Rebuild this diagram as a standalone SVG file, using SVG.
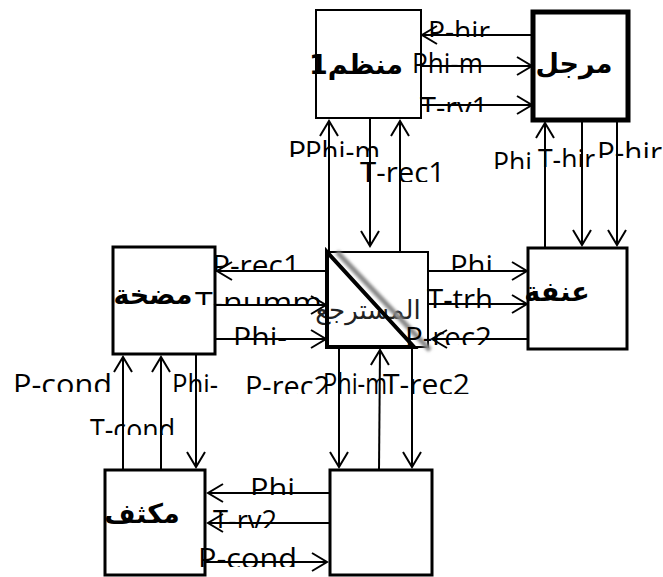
<svg xmlns="http://www.w3.org/2000/svg" width="663" height="577" viewBox="0 0 663 577">
<defs>
<marker id="ah" markerUnits="userSpaceOnUse" markerWidth="20" markerHeight="22" refX="16" refY="10" orient="auto" overflow="visible">
<path d="M1,1 L16,10 L1,19" fill="none" stroke="#000" stroke-width="2"/>
</marker>
<filter id="blur" x="-20%" y="-20%" width="140%" height="140%"><feGaussianBlur stdDeviation="1.6"/></filter>
<clipPath id="k1" clipPathUnits="userSpaceOnUse"><rect x="400" y="0" width="120" height="37"/></clipPath>
<clipPath id="k2" clipPathUnits="userSpaceOnUse"><rect x="400" y="40" width="120" height="33"/></clipPath>
<clipPath id="k3" clipPathUnits="userSpaceOnUse"><rect x="400" y="85" width="120" height="27"/></clipPath>
<clipPath id="k4" clipPathUnits="userSpaceOnUse"><rect x="270" y="125" width="130" height="32"/></clipPath>
<clipPath id="k6" clipPathUnits="userSpaceOnUse"><rect x="340" y="150" width="120" height="32"/></clipPath>
<clipPath id="k7" clipPathUnits="userSpaceOnUse"><rect x="480" y="135" width="60" height="34"/></clipPath>
<clipPath id="k8" clipPathUnits="userSpaceOnUse"><rect x="530" y="135" width="70" height="32"/></clipPath>
<clipPath id="k9" clipPathUnits="userSpaceOnUse"><rect x="590" y="130" width="80" height="28"/></clipPath>
<clipPath id="k10" clipPathUnits="userSpaceOnUse"><rect x="200" y="240" width="120" height="32"/></clipPath>
<clipPath id="k11" clipPathUnits="userSpaceOnUse"><rect x="190" y="280" width="140" height="25"/></clipPath>
<clipPath id="k12" clipPathUnits="userSpaceOnUse"><rect x="220" y="315" width="90" height="30"/></clipPath>
<clipPath id="k13" clipPathUnits="userSpaceOnUse"><rect x="440" y="240" width="70" height="32"/></clipPath>
<clipPath id="k14" clipPathUnits="userSpaceOnUse"><rect x="420" y="278" width="90" height="30"/></clipPath>
<clipPath id="k15" clipPathUnits="userSpaceOnUse"><rect x="400" y="315" width="110" height="30"/></clipPath>
<clipPath id="k16" clipPathUnits="userSpaceOnUse"><rect x="0" y="360" width="240" height="32"/></clipPath>
<clipPath id="k18" clipPathUnits="userSpaceOnUse"><rect x="235" y="360" width="250" height="34"/></clipPath>
<clipPath id="k21" clipPathUnits="userSpaceOnUse"><rect x="80" y="405" width="110" height="30"/></clipPath>
<clipPath id="k22" clipPathUnits="userSpaceOnUse"><rect x="240" y="465" width="70" height="30"/></clipPath>
<clipPath id="k23" clipPathUnits="userSpaceOnUse"><rect x="205" y="500" width="90" height="28"/></clipPath>
<clipPath id="k24" clipPathUnits="userSpaceOnUse"><rect x="190" y="538" width="120" height="29"/></clipPath>
<style>
.box{fill:#fff;stroke:#000}
.c{stroke:#000;stroke-width:2;fill:none;marker-end:url(#ah)}
.t{font-family:"Open Sans","Noto Sans",sans-serif;font-size:30px;fill:#000}
.ar{font-family:"DejaVu Sans",sans-serif;font-weight:bold;font-size:27px;fill:#000;text-anchor:middle;direction:rtl;unicode-bidi:embed}
</style>
</defs>
<g id="connectors">
<line class="c" x1="533" y1="35" x2="422" y2="35"/>
<line class="c" x1="421" y1="66" x2="532" y2="66"/>
<line class="c" x1="421" y1="105" x2="532" y2="105"/>
<line class="c" x1="329" y1="252" x2="329" y2="121"/>
<line class="c" x1="370" y1="118" x2="370" y2="246"/>
<line class="c" x1="400" y1="252" x2="400" y2="121"/>
<line class="c" x1="545" y1="248" x2="545" y2="123"/>
<line class="c" x1="582" y1="120" x2="582" y2="245"/>
<line class="c" x1="617" y1="120" x2="617" y2="245"/>
<line class="c" x1="327" y1="271" x2="217" y2="271"/>
<line class="c" x1="215" y1="305" x2="326" y2="305"/>
<line class="c" x1="215" y1="339" x2="326" y2="339"/>
<line class="c" x1="428" y1="271" x2="527" y2="271"/>
<line class="c" x1="428" y1="304" x2="527" y2="304"/>
<line class="c" x1="528" y1="339" x2="432" y2="339"/>
<line class="c" x1="123" y1="470" x2="123" y2="357"/>
<line class="c" x1="161" y1="470" x2="161" y2="357"/>
<line class="c" x1="196" y1="354" x2="196" y2="467"/>
<line class="c" x1="339" y1="347" x2="339" y2="467"/>
<line class="c" x1="379" y1="470" x2="380" y2="350"/>
<line class="c" x1="412" y1="347" x2="412" y2="467"/>
<line class="c" x1="330" y1="493" x2="208" y2="493"/>
<line class="c" x1="330" y1="523" x2="208" y2="523"/>
<line class="c" x1="205" y1="562" x2="327" y2="562"/>
</g>
<g id="n-monazzem">
<rect class="box" x="316" y="10" width="105" height="108" stroke-width="2"/>
<text class="ar" x="356" y="74">منظم1</text>
</g>
<g id="n-marjal">
<rect class="box" x="533" y="12" width="95" height="108" stroke-width="5"/>
<text class="ar" x="574" y="73">مرجل</text>
</g>
<g id="n-madakha">
<rect class="box" x="113" y="247" width="102" height="107" stroke-width="3"/>
<text class="ar" x="153" y="304">مضخة</text>
</g>
<g id="n-mostarje">
<rect class="box" x="327" y="252" width="101" height="95" stroke-width="2"/>
<text x="368" y="319" style="font-family:'DejaVu Sans',sans-serif;font-size:26px;text-anchor:middle;direction:rtl;unicode-bidi:embed" fill="#222">المسترجع</text>
<line x1="337" y1="252" x2="430" y2="350" stroke="#888" stroke-width="5" filter="url(#blur)"/>
<path d="M327,252 L327,347 L414,347 Z" fill="none" stroke="#000" stroke-width="4" stroke-linejoin="miter"/>
</g>
<g id="n-onfa">
<rect class="box" x="528" y="248" width="99" height="101" stroke-width="3"/>
<text class="ar" x="557" y="301">عنفة</text>
</g>
<g id="n-mokattef">
<rect class="box" x="105" y="470" width="100" height="105" stroke-width="3"/>
<text class="ar" x="142" y="523">مكثف</text>
</g>
<g id="n-empty">
<rect class="box" x="330" y="470" width="102" height="105" stroke-width="3"/>
</g>
<g id="labels">
<text class="t" x="428" y="42" textLength="62" lengthAdjust="spacingAndGlyphs" clip-path="url(#k1)">P-hir</text>
<text class="t" x="412" y="74" textLength="71" lengthAdjust="spacingAndGlyphs" clip-path="url(#k2)">Phi-m</text>
<text class="t" x="420" y="118" textLength="68" lengthAdjust="spacingAndGlyphs" clip-path="url(#k3)">T-rv1</text>
<text class="t" x="288" y="162" clip-path="url(#k4)">P</text>
<text class="t" x="305" y="162" textLength="75" lengthAdjust="spacingAndGlyphs" clip-path="url(#k4)">Phi-m</text>
<text class="t" x="360" y="183" textLength="85" lengthAdjust="spacingAndGlyphs" clip-path="url(#k6)">T-rec1</text>
<text class="t" x="493" y="173" textLength="39" lengthAdjust="spacingAndGlyphs" clip-path="url(#k7)">Phi</text>
<text class="t" x="538" y="170" textLength="57" lengthAdjust="spacingAndGlyphs" clip-path="url(#k8)">T-hir</text>
<text class="t" x="597" y="163" textLength="65" lengthAdjust="spacingAndGlyphs" clip-path="url(#k9)">P-hir</text>
<text class="t" x="212" y="276" textLength="88" lengthAdjust="spacingAndGlyphs" clip-path="url(#k10)">P-rec1</text>
<text class="t" x="195" y="313" textLength="127" lengthAdjust="spacingAndGlyphs" clip-path="url(#k11)">T-numm</text>
<text class="t" x="233" y="348" textLength="54" lengthAdjust="spacingAndGlyphs" clip-path="url(#k12)">Phi-</text>
<text class="t" x="450" y="276" textLength="43" lengthAdjust="spacingAndGlyphs" clip-path="url(#k13)">Phi</text>
<text class="t" x="427" y="310" textLength="66" lengthAdjust="spacingAndGlyphs" clip-path="url(#k14)">T-trh</text>
<text class="t" x="405" y="348" textLength="87" lengthAdjust="spacingAndGlyphs" clip-path="url(#k15)">P-rec2</text>
<text class="t" x="13" y="395" textLength="99" lengthAdjust="spacingAndGlyphs" clip-path="url(#k16)">P-cond</text>
<text class="t" x="172" y="395" textLength="46" lengthAdjust="spacingAndGlyphs" clip-path="url(#k16)">Phi-</text>
<text class="t" x="245" y="397" textLength="85" lengthAdjust="spacingAndGlyphs" clip-path="url(#k18)">P-rec2</text>
<text class="t" x="323" y="394" textLength="64" lengthAdjust="spacingAndGlyphs" clip-path="url(#k18)">Phi-m</text>
<text class="t" x="383" y="395" textLength="87" lengthAdjust="spacingAndGlyphs" clip-path="url(#k18)">T-rec2</text>
<text class="t" x="90" y="440" textLength="85" lengthAdjust="spacingAndGlyphs" clip-path="url(#k21)">T-cond</text>
<text class="t" x="250" y="499" textLength="45" lengthAdjust="spacingAndGlyphs" clip-path="url(#k22)">Phi</text>
<text class="t" x="213" y="531" textLength="64" lengthAdjust="spacingAndGlyphs" clip-path="url(#k23)">T-rv2</text>
<text class="t" x="198" y="569" textLength="99" lengthAdjust="spacingAndGlyphs" clip-path="url(#k24)">P-cond</text>
</g>
</svg>
